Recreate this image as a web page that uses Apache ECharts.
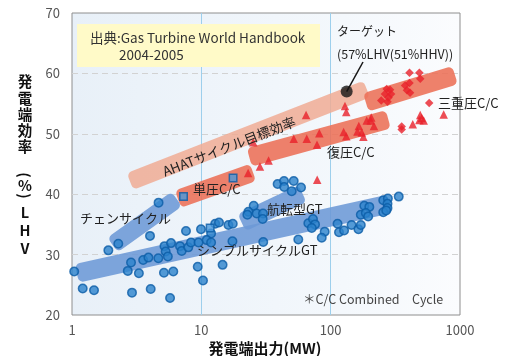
<!DOCTYPE html>
<html>
<head>
<meta charset="utf-8">
<script src="https://cdn.jsdelivr.net/npm/echarts@6/dist/echarts.min.js"></script>
<style>
html, body { margin: 0; padding: 0; background: #ffffff; }
#chart { width: 511px; height: 356px; }
</style>
</head>
<body>
<div id="chart"></div>
<script>
// Axis ticks
const xTicks = [1, 10, 100, 1000];
const yTicks = [20, 30, 40, 50, 60, 70];

// Simple-cycle and aeroderivative gas turbines: [output MW, efficiency %LHV]
const simpleCycleGT = [
  [1.04, 27.2], [1.21, 24.4], [1.48, 24.1], [1.91, 30.7], [2.28, 31.8], [4.67, 38.6],
  [4.01, 33.1], [2.86, 28.7], [2.70, 27.3], [3.29, 26.9], [2.91, 23.7], [4.06, 24.3],
  [3.55, 29.1], [3.90, 29.5], [4.65, 29.4], [5.14, 27.0], [6.07, 27.2], [5.73, 22.8],
  [5.19, 31.4], [5.83, 31.9], [5.30, 30.5], [5.51, 29.7], [7.61, 33.9], [6.84, 31.4],
  [7.05, 30.6], [7.93, 31.2], [8.32, 32.0], [9.94, 34.2], [9.51, 32.0], [9.38, 28.0],
  [10.3, 25.7], [12.8, 35.1], [13.7, 35.3], [16.2, 34.9], [17.5, 35.1], [11.9, 33.5],
  [11.0, 32.4], [11.9, 32.0], [17.4, 32.2], [30.1, 32.1], [14.6, 28.3], [38.9, 41.7],
  [43.6, 42.2], [51.8, 42.2], [43.7, 41.2], [50.0, 40.5], [59.0, 41.1], [25.4, 38.1],
  [23.1, 37.1], [22.7, 36.6], [26.8, 36.8], [30.0, 36.8], [29.8, 35.9], [56.2, 32.5],
  [67.2, 35.2], [73.0, 35.9], [75.7, 35.0], [71.4, 34.4], [89.9, 33.8], [85.3, 32.8],
  [113, 35.1], [116, 33.7], [127, 34.0], [145, 34.9], [164, 34.2], [171, 34.9],
  [182, 38.1], [199, 37.9], [171, 36.6], [187, 36.9], [195, 36.3], [255, 39.0],
  [277, 39.3], [275, 38.4], [275, 37.7], [255, 37.0], [269, 37.3], [336, 39.6]
];

// Single-pressure combined cycle
const singlePressureCC = [[7.28, 39.6], [17.6, 42.7], [11.7, 34.4]];

// Multi-pressure combined cycle
const multiPressureCC = [
  [23.0, 43.5], [28.4, 44.6], [33.1, 45.6], [25.2, 48.6], [51.8, 49.2], [65.3, 49.2],
  [81.7, 50.1], [78.4, 48.2], [64.5, 53.1], [78.7, 42.4], [129, 54.6], [132, 53.6],
  [126, 50.3], [132, 49.6], [165, 51.3], [161, 50.4], [174, 50.2], [179, 49.5],
  [190, 52.2], [206, 52.7], [204, 52.2], [216, 51.3], [431, 51.6], [493, 53.1],
  [506, 52.6], [524, 52.2], [485, 52.3], [748, 53.2]
];

// Triple-pressure combined cycle
const triplePressureCC = [
  [407, 60.1], [485, 60.1], [493, 59.1], [376, 58.0], [407, 58.4], [389, 57.2],
  [411, 56.8], [271, 57.4], [288, 57.3], [263, 56.6], [293, 56.6], [246, 55.5],
  [275, 55.3], [280, 56.0], [578, 55.1], [354, 51.2], [354, 50.7]
];

// AHAT target point (57% LHV)
const ahatTarget = [[133, 57]];

// Trend bands: start and end of each band's centre line [MW, %LHV]
const bandAHAT = [[2.81, 42.1], [190, 57.4]];
const bandMultiCC = [[23.5, 46.1], [279, 52.4]];
const bandTripleCC = [[187, 55.2], [915, 59.7]];
const bandSingleCC = [[6.60, 39.2], [25.1, 43.6]];
const bandSimpleGT = [[1.09, 26.9], [285, 38.4]];
const bandAeroGT = [[20.5, 35.3], [60.6, 40.1]];
const bandChainCycle = [[2.06, 31.6], [6.45, 39.2]];

const FONT = "'Noto Sans CJK JP', 'Noto Sans', sans-serif";

const chart = echarts.init(document.getElementById('chart'), null, { renderer: 'canvas' });

function band(name, ends, color, width) {
  return {
    type: 'custom',
    name: name,
    silent: true,
    z: 1,
    clip: false,
    data: [[ends[0][0], ends[0][1], ends[1][0], ends[1][1]]],
    encode: { x: [0, 2], y: [1, 3] },
    renderItem: function (params, api) {
      const a = api.coord([api.value(0), api.value(1)]);
      const b = api.coord([api.value(2), api.value(3)]);
      const dx = b[0] - a[0], dy = b[1] - a[1];
      const len = Math.sqrt(dx * dx + dy * dy);
      return {
        type: 'rect',
        x: (a[0] + b[0]) / 2,
        y: (a[1] + b[1]) / 2,
        rotation: -Math.atan2(dy, dx),
        shape: { x: -len / 2, y: -width / 2, width: len, height: width, r: 5 },
        style: { fill: color }
      };
    }
  };
}

chart.setOption({
  animation: false,
  textStyle: { fontFamily: FONT },
  grid: {
    left: 72, top: 13, width: 388, height: 302,
    show: true,
    borderColor: '#8e8e8e',
    borderWidth: 1,
    backgroundColor: {
      type: 'linear', x: 0, y: 0, x2: 1, y2: 0,
      colorStops: [
        { offset: 0, color: '#e8f0f8' },
        { offset: 0.7, color: '#f4f8fc' },
        { offset: 1, color: '#fbfcfe' }
      ]
    }
  },
  xAxis: {
    type: 'log',
    logBase: 10,
    min: xTicks[0],
    max: xTicks[xTicks.length - 1],
    axisLine: { show: false },
    axisTick: { show: false },
    axisLabel: {
      color: '#555', fontSize: 13, margin: 9, fontFamily: FONT,
      formatter: function (v) { return String(Math.round(v)); }
    },
    splitLine: {
      show: true,
      showMinLine: false,
      showMaxLine: false,
      lineStyle: { color: '#9dcfec', width: 1, type: 'solid' }
    }
  },
  yAxis: {
    type: 'value',
    min: yTicks[0],
    max: yTicks[yTicks.length - 1],
    interval: 10,
    axisLine: { show: false },
    axisTick: { show: false },
    axisLabel: { color: '#555', fontSize: 13, margin: 12, fontFamily: FONT },
    splitLine: {
      show: true,
      showMinLine: false,
      showMaxLine: false,
      lineStyle: { color: '#d2d2d2', width: 1, type: [6, 4] }
    }
  },
  series: [
    band('AHATサイクル目標効率', bandAHAT, 'rgba(240,172,148,0.85)', 18),
    band('復圧C/C', bandMultiCC, 'rgba(236,112,86,0.88)', 19),
    band('三重圧C/C', bandTripleCC, 'rgba(236,112,86,0.88)', 19),
    band('単圧C/C', bandSingleCC, 'rgba(236,112,86,0.88)', 18.5),
    band('シンプルサイクルGT', bandSimpleGT, 'rgba(108,153,214,0.88)', 19),
    band('航転型GT', bandAeroGT, 'rgba(108,153,214,0.88)', 19),
    band('チェンサイクル', bandChainCycle, 'rgba(108,153,214,0.88)', 18),
    {
      type: 'scatter', name: 'シンプルサイクルGT', z: 5,
      data: simpleCycleGT, symbol: 'circle', symbolSize: 8.5,
      itemStyle: { color: '#2a82cc', borderColor: '#0b5ca6', borderWidth: 1.5 }
    },
    {
      type: 'scatter', name: '単圧C/C', z: 5,
      data: singlePressureCC, symbol: 'rect', symbolSize: 7.5,
      itemStyle: { color: '#4a98dc', borderColor: '#0b5ca6', borderWidth: 1.5 }
    },
    {
      type: 'scatter', name: '復圧C/C', z: 5,
      data: multiPressureCC, symbol: 'triangle', symbolSize: 8.5,
      itemStyle: { color: '#e8202a' }
    },
    {
      type: 'scatter', name: '三重圧C/C', z: 5,
      data: triplePressureCC, symbol: 'diamond', symbolSize: 8.5,
      itemStyle: { color: '#e8202a' }
    },
    {
      type: 'scatter', name: 'ターゲット', z: 10,
      data: ahatTarget, symbol: 'circle', symbolSize: 12,
      itemStyle: { color: '#151515' }
    }
  ]
});

function txt(text, x, y, size, opts) {
  const o = opts || {};
  return {
    type: 'text', x: x, y: y, z: 100, silent: true,
    rotation: o.rotation || 0,
    style: {
      text: text,
      font: (o.weight ? o.weight + ' ' : '') + size + 'px ' + FONT,
      fill: o.fill || '#222',
      align: o.align || 'left',
      verticalAlign: 'middle',
      textAlign: o.align || 'left',
      textVerticalAlign: 'middle'
    }
  };
}

const tp = chart.convertToPixel({ xAxisIndex: 0, yAxisIndex: 0 }, ahatTarget[0]);

const yTitle = [
  ['発', 81.7, 0], ['電', 98, 0], ['端', 114.5, 0], ['効', 130.5, 0], ['率', 146.5, 0],
  ['(', 175, -Math.PI / 2], ['%', 185.5, 0], [')', 196, -Math.PI / 2],
  ['L', 212.5, 0], ['H', 230, 0], ['V', 248.3, 0]
];

const elements = [
  {
    type: 'rect', z: 50, silent: true,
    shape: { x: 77, y: 24, width: 243, height: 43 },
    style: { fill: '#fffac8' }
  },
  txt('出典:Gas Turbine World Handbook', 90, 37.5, 13.5, { fill: '#333' }),
  txt('2004-2005', 119, 54.5, 13.5, { fill: '#333' }),
  {
    type: 'line', z: 8, silent: true,
    shape: { x1: tp[0], y1: tp[1], x2: 363, y2: 62 },
    style: { stroke: '#151515', lineWidth: 1.5 }
  },
  txt('ターゲット', 337, 31.5, 12),
  txt('(57%LHV(51%HHV))', 337, 54, 12.5),
  txt('AHATサイクル目標効率', 229, 146.5, 13.5, { align: 'center', rotation: 0.37 }),
  txt('チェンサイクル', 80, 218, 13),
  txt('単圧C/C', 193, 189.5, 13),
  txt('航転型GT', 267, 209, 13),
  txt('シンプルサイクルGT', 197, 250, 13),
  txt('復圧C/C', 327, 152, 13),
  txt('三重圧C/C', 438, 103, 13),
  txt('＊C/C Combined　Cycle', 303, 299, 12.5, { fill: '#444' }),
  txt('発電端出力(MW)', 265, 348, 15, { align: 'center', weight: 'bold', fill: '#111' })
];
yTitle.forEach(function (c) {
  elements.push(txt(c[0], 25, c[1], 14.5, { align: 'center', weight: 'bold', fill: '#111', rotation: c[2] }));
});

chart.setOption({ graphic: { elements: elements } });
</script>
</body>
</html>
